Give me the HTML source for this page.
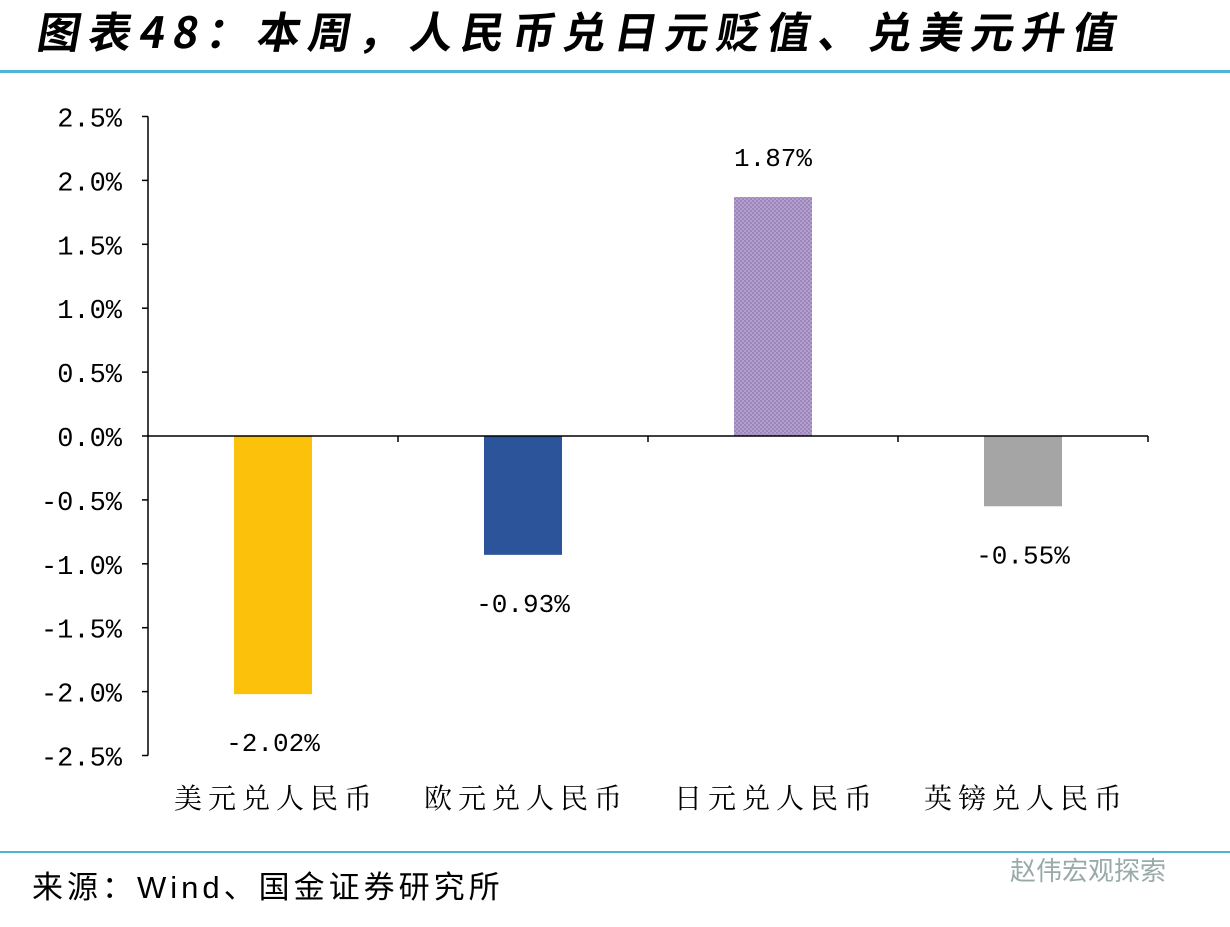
<!DOCTYPE html>
<html><head><meta charset="utf-8"><style>
body{margin:0;background:#fff;width:1230px;height:922px;overflow:hidden;font-family:"Liberation Sans","Noto Sans CJK SC",sans-serif}
</style></head><body>
<svg width="1230" height="922" xmlns="http://www.w3.org/2000/svg">
<defs><pattern id="chk" width="4" height="4" patternUnits="userSpaceOnUse"><rect width="4" height="4" fill="#b3a0cc"/><rect width="2" height="2" fill="#9c86bc"/><rect x="2" y="2" width="2" height="2" fill="#9c86bc"/></pattern></defs>
<text x="36" y="48" font-size="43" font-weight="bold" letter-spacing="8" font-family="'Noto Sans CJK SC',sans-serif" fill="#000" transform="translate(8,0) skewX(-10)">图表48：本周，人民币兑日元贬值、兑美元升值</text>
<rect x="0" y="70" width="1230" height="3" fill="#4fb3d6"/>
<g id="plot"></g>
<rect x="0" y="851" width="1230" height="2" fill="#4fb3d6"/>
<text x="32" y="898" font-size="31" letter-spacing="4" fill="#000">来源：Wind、国金证券研究所</text>
<text x="1010" y="880" font-size="26" fill="#9aa">赵伟宏观探索</text>
</svg>
<script>
const categories=["美元兑人民币","欧元兑人民币","日元兑人民币","英镑兑人民币"];
const values=[-2.02,-0.93,1.87,-0.55];
const labels=["-2.02%","-0.93%","1.87%","-0.55%"];
const ticks=[2.5,2.0,1.5,1.0,0.5,0.0,-0.5,-1.0,-1.5,-2.0,-2.5];
const colors=["#fcc10b","#2b549a","url(#chk)","#a5a5a5"];
const NS="http://www.w3.org/2000/svg";
const g=document.getElementById('plot');
const x0=148,x1=1148,yTop=116.5,yBot=755.5,vMax=2.5,vMin=-2.5;
const y=v=>yTop+(vMax-v)/(vMax-vMin)*(yBot-yTop);
const bw=(x1-x0)/categories.length;
function mk(t,a){const e=document.createElementNS(NS,t);for(const k in a)e.setAttribute(k,a[k]);g.appendChild(e);return e;}
let ax=mk('line',{x1:x0,y1:yTop,x2:x0,y2:yBot,stroke:'#000','stroke-width':1.5});


ticks.forEach(t=>{
 let l=mk('line',{x1:x0-6,x2:x0,y1:y(t),y2:y(t),stroke:'#000','stroke-width':1.5});
 
 
 let tx=mk('text',{x:x0-26,y:y(t)+10,'text-anchor':'end','font-size':27,fill:'#000','font-family':'Liberation Mono, monospace'});
 tx.textContent=t.toFixed(1)+'%';
 
 
});
categories.forEach((c,i)=>{
 const cx=x0+bw*(i+0.5),v=values[i];
 let r=mk('rect',{x:cx-39,y:Math.min(y(v),y(0)),width:78,height:Math.abs(y(v)-y(0)),fill:colors[i]});
 
 
 let lb=mk('text',{x:cx,y:v>=0?y(v)-31:y(v)+57,'text-anchor':'middle','font-size':26,fill:'#000','font-family':'Liberation Mono, monospace'});
 lb.textContent=labels[i];
 
 
 let ct=mk('text',{x:cx+3,y:808,'text-anchor':'middle','font-size':28,fill:'#000','letter-spacing':6,'font-family':'Noto Serif CJK SC, serif'});
 ct.textContent=c;
 
 
 if(i>0){let tk=mk('line',{x1:x0+bw*i,x2:x0+bw*i,y1:y(0),y2:y(0)+6,stroke:'#000','stroke-width':1.5});
 
 }
});
let xa=mk('line',{x1:x0,y1:y(0),x2:x1,y2:y(0),stroke:'#000','stroke-width':1.5});


let te=mk('line',{x1:x1,x2:x1,y1:y(0),y2:y(0)+6,stroke:'#000','stroke-width':1.5});


</script>
</body></html>
